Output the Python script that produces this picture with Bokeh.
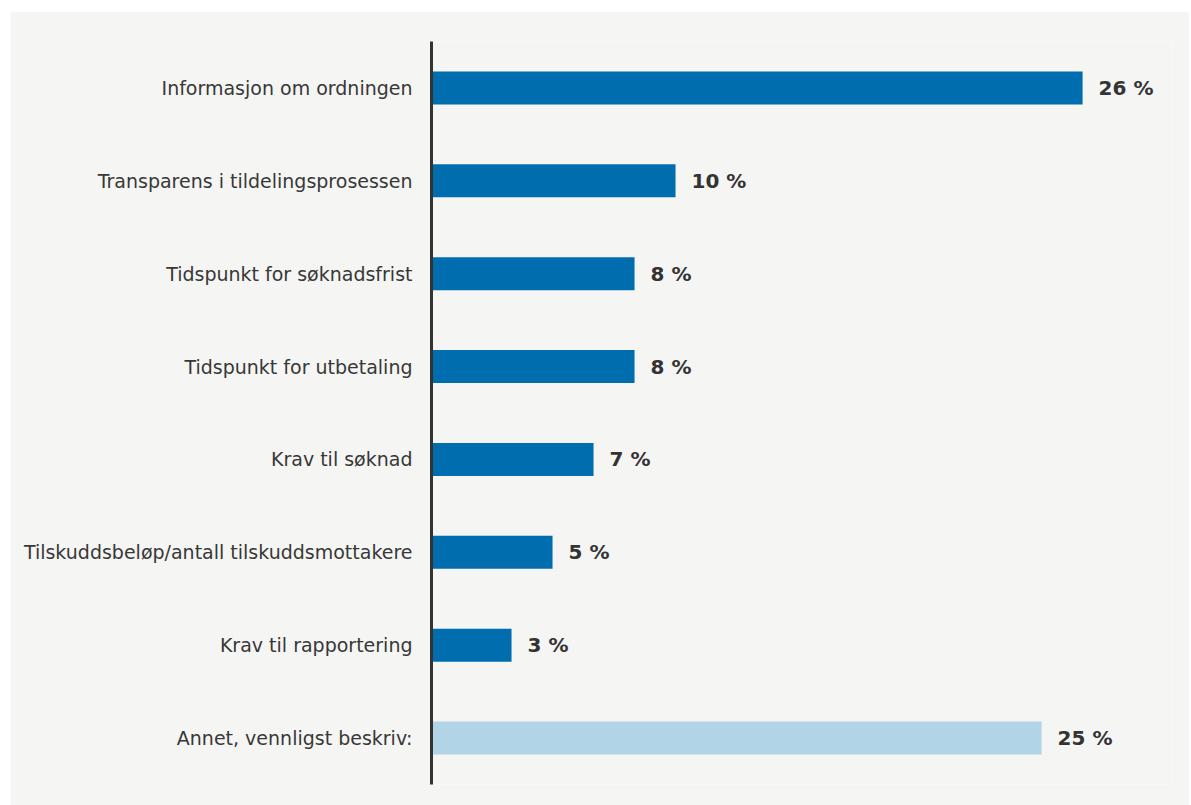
from bokeh.plotting import figure
from bokeh.models import ColumnDataSource, Range1d, FactorRange
from bokeh.embed import file_html
from bokeh.resources import INLINE
from bokeh.core.properties import value

categories = [
    "Informasjon om ordningen",
    "Transparens i tildelingsprosessen",
    "Tidspunkt for søknadsfrist",
    "Tidspunkt for utbetaling",
    "Krav til søknad",
    "Tilskuddsbeløp/antall tilskuddsmottakere",
    "Krav til rapportering",
    "Annet, vennligst beskriv:",
]
values = [26.36, 9.88, 8.22, 8.22, 6.56, 4.90, 3.24, 24.70]
labels = ["26 %", "10 %", "8 %", "8 %", "7 %", "5 %", "3 %", "25 %"]
colors = ["#006eae"] * 7 + ["#b2d4e7"]

BG = "#f5f5f3"

src = ColumnDataSource(dict(cat=categories, val=values, lab=labels, col=colors))

p = figure(
    width=1179, height=794,
    y_range=FactorRange(*reversed(categories)),
    x_range=Range1d(0, 30),
    output_backend="svg", toolbar_location=None,
    min_border_left=421, min_border_right=17, min_border_top=30, min_border_bottom=21,
    background_fill_color=BG, border_fill_color=BG,
    outline_line_color=None,
    margin=(11, 0, 0, 10),
)

p.hbar(y="cat", right="val", left=0, height=0.355, color="col", line_color=None, source=src)
p.text(x="val", y="cat", text="lab", source=src, x_offset=16,
       text_align="left", text_baseline="middle",
       text_font=value("DejaVu Sans"), text_font_style="bold",
       text_font_size="20px", text_color="#333333")

p.xaxis.visible = False
p.xgrid.visible = False
p.ygrid.visible = False

ax = p.yaxis[0]
ax.axis_line_color = "#333333"
ax.axis_line_width = 3
ax.major_tick_line_color = None
ax.minor_tick_line_color = None
ax.major_label_standoff = 13
ax.major_label_text_font = "DejaVu Sans"
ax.major_label_text_font_size = "19px"
ax.major_label_text_color = "#383838"

open("out.html", "w").write(file_html(p, INLINE))
